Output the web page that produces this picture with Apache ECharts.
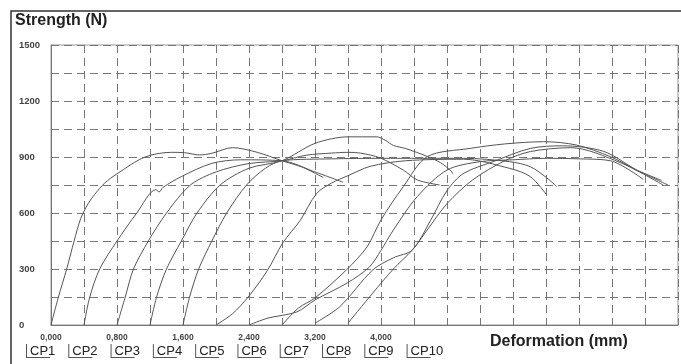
<!DOCTYPE html>
<html>
<head>
<meta charset="utf-8">
<script src="https://cdn.jsdelivr.net/npm/echarts@6/dist/echarts.min.js"></script>
<style>
	html, body { margin: 0; padding: 0; background: #fff; }
	#chart { width: 681px; height: 364px; }
</style>
</head>
<body>
<div id="chart"></div>
<script>
// deformation (mm) / strength (N)
var cp1 = [[0,0],[0.09,150],[0.19,300],[0.28,450],[0.36,570],[0.45,650],[0.53,700],[0.65,760],[0.8,810],[1.14,900],[1.46,925],[1.62,923],[1.8,911],[1.95,920],[2.2,950],[2.5,925],[2.8,880],[3.05,845],[3.3,790]];
var cp2 = [[0.4,0],[0.47,150],[0.59,300],[0.8,450],[1.04,600],[1.27,725],[1.31,713],[1.36,738],[1.58,795],[1.95,866],[2.3,885],[2.8,880],[3.2,820],[3.54,765]];
var cp3 = [[0.8,0],[0.9,150],[1.0,300],[1.18,450],[1.4,600],[1.69,750],[2.0,820],[2.4,865],[2.8,880],[3.1,910],[3.4,921],[3.6,925],[3.75,921],[3.99,895],[4.27,830],[4.44,777],[4.71,750]];
var cp4 = [[1.2,0],[1.28,150],[1.4,300],[1.58,450],[1.77,600],[2.05,750],[2.4,840],[2.8,880],[3.2,973],[3.6,1008],[3.95,1008],[4.05,990],[4.15,962],[4.3,945],[4.55,905],[4.72,870],[4.85,825],[4.87,810]];
var cp5 = [[1.6,0],[1.68,150],[1.79,300],[1.95,450],[2.13,600],[2.37,750],[2.6,840],[2.8,880],[3.4,890],[4.0,893],[5.0,893],[5.56,875],[5.81,848],[6.01,788],[6.13,741]];
var cp6 = [[2.0,0],[2.2,60],[2.39,150],[2.62,290],[2.81,440],[3.02,560],[3.22,705],[3.4,760],[3.6,800],[3.87,850],[4.3,880],[5.0,888],[5.56,839],[5.81,795],[6.01,696]];
var cp7 = [[2.4,0],[2.63,37],[2.98,70],[3.2,134],[3.59,225],[3.86,311],[4.0,400],[4.15,509],[4.44,688],[4.8,830],[5.2,875],[5.6,885],[6.0,893],[6.4,890],[6.78,880],[7.18,780]];
var cp8 = [[2.8,0],[3.0,91],[3.2,145],[3.58,295],[3.83,418],[4.0,563],[4.27,741],[4.56,902],[5.08,946],[5.5,970],[5.97,982],[6.37,964],[6.78,902],[7.1,830],[7.4,775]];
var cp9 = [[3.2,10],[3.5,98],[3.9,295],[4.15,360],[4.38,402],[4.6,560],[4.8,720],[5.0,812],[5.36,875],[5.81,946],[6.2,960],[6.7,930],[7.1,830],[7.48,750]];
var cp10 = [[3.6,10],[3.9,171],[4.15,300],[4.38,402],[4.56,509],[4.8,650],[5.11,777],[5.5,880],[5.81,929],[6.3,950],[6.9,870],[7.42,750]];

var seriesNames = ['CP1','CP2','CP3','CP4','CP5','CP6','CP7','CP8','CP9','CP10'];
var seriesData = [cp1, cp2, cp3, cp4, cp5, cp6, cp7, cp8, cp9, cp10];
var xTickLabels = ['0,000','0,800','1,600','2,400','3,200','4,000'];
var yTickLabels = [0, 300, 600, 900, 1200, 1500];

var font = 'Liberation Sans, Arial, Helvetica, sans-serif';
var chart = echarts.init(document.getElementById('chart'));

var series = seriesNames.map(function(name, i){
	return {
		name: name,
		type: 'line',
		data: seriesData[i],
		smooth: 0.3,
		showSymbol: false,
		color: '#555',
		lineStyle: { color: '#555', width: 1 }
	};
});

var option = {
	animation: false,
	backgroundColor: '#fff',
	title: [
		{ text: 'Strength (N)', left: 15, top: 13, padding: 0,
		  textStyle: { fontSize: 16, fontWeight: 'bold', color: '#222', fontFamily: font } },
		{ text: 'Deformation (mm)', left: 490, top: 334, padding: 0,
		  textStyle: { fontSize: 16, fontWeight: 'bold', color: '#222', fontFamily: font } }
	],
	legend: {
		left: 26,
		top: 344,
		padding: 0,
		itemWidth: 24,
		itemHeight: 14,
		itemGap: 13,
		icon: 'path://M0,0 L1,0 L1,13 L24,13 L24,14 L0,14 Z',
		textStyle: { fontSize: 13, color: '#222', fontFamily: font, padding: [0, 0, 0, -25] },
		data: seriesNames
	},
	grid: {
		left: 51, right: 3, top: 45, bottom: 39,
		show: true, borderColor: '#999', borderWidth: 1
	},
	xAxis: {
		type: 'value',
		min: 0, max: 7.6, interval: 0.4,
		axisLine: { show: true, lineStyle: { color: '#777' } },
		axisTick: { show: false },
		axisLabel: {
			margin: 8, fontSize: 8.5, fontWeight: 'bold', color: '#444', fontFamily: font,
			showMaxLabel: false,
			formatter: function(v){
				var k = Math.round(v / 0.8);
				if (Math.abs(v - k * 0.8) < 1e-6 && k < xTickLabels.length) return xTickLabels[k];
				return '';
			}
		},
		splitLine: { show: true, lineStyle: { color: '#777', width: 1, type: [8, 5] } }
	},
	yAxis: {
		type: 'value',
		min: 0, max: 1500, interval: 150,
		axisLine: { show: true, lineStyle: { color: '#777' } },
		axisTick: { show: false },
		axisLabel: {
			margin: 32, align: 'left', fontSize: 9.5, fontWeight: 'bold', color: '#444', fontFamily: font,
			formatter: function(v){
				return yTickLabels.indexOf(v) >= 0 ? String(v) : '';
			}
		},
		splitLine: { show: true, lineStyle: { color: '#777', width: 1, type: [8, 5] } }
	},
	graphic: [
		{ type: 'rect', shape: { x: 11, y: 11, width: 720, height: 400 },
		  style: { fill: 'none', stroke: '#333', lineWidth: 1.5 }, silent: true }
	],
	series: series
};
chart.setOption(option);
</script>
</body>
</html>
